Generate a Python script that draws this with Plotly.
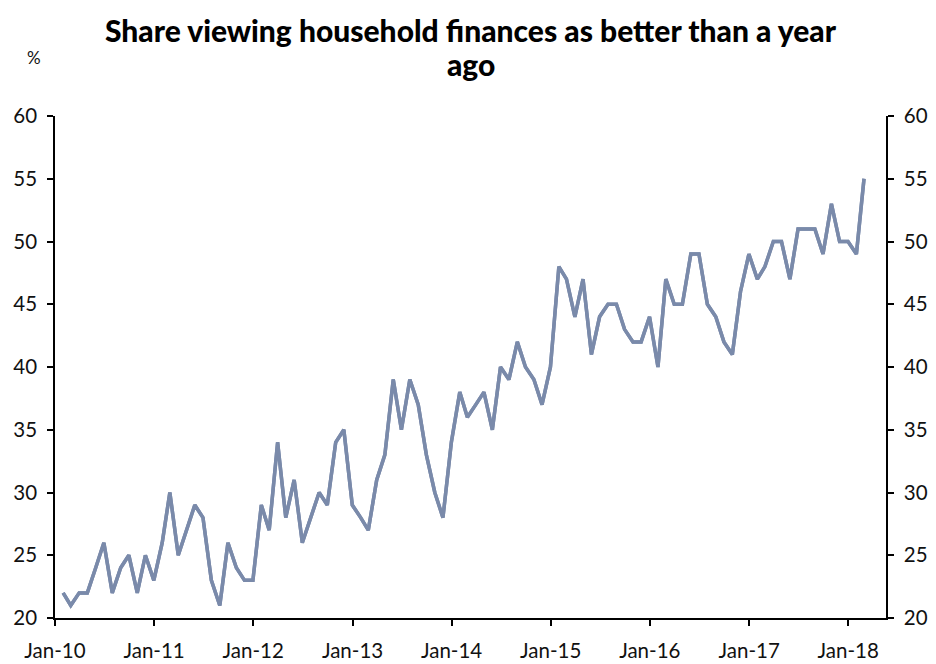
import plotly.graph_objects as go
import pandas as pd

# Monthly survey values, Jan-2010 .. Feb-2018 (%)
values = [22, 21, 22, 22, 24, 26, 22, 24, 25, 22, 25, 23,
          26, 30, 25, 27, 29, 28, 23, 21, 26, 24, 23, 23,
          29, 27, 34, 28, 31, 26, 28, 30, 29, 34, 35, 29,
          28, 27, 31, 33, 39, 35, 39, 37, 33, 30, 28, 34,
          38, 36, 37, 38, 35, 40, 39, 42, 40, 39, 37, 40,
          48, 47, 44, 47, 41, 44, 45, 45, 43, 42, 42, 44,
          40, 47, 45, 45, 49, 49, 45, 44, 42, 41, 46, 49,
          47, 48, 50, 50, 47, 51, 51, 51, 49, 53, 50, 50,
          49, 55]
dates = pd.date_range("2010-01-31", periods=len(values), freq="ME")

tick_dates = pd.date_range("2010-01-01", "2018-01-01", freq="YS")
tick_labels = ["Jan-10", "Jan-11", "Jan-12", "Jan-13", "Jan-14",
               "Jan-15", "Jan-16", "Jan-17", "Jan-18"]
y_ticks = [20, 25, 30, 35, 40, 45, 50, 55, 60]
title_lines = ["Share viewing household finances as better than a year", "ago"]

LINE = "#7a8aaa"
FONT = "Lato"

fig = go.Figure()
fig.add_trace(go.Scatter(x=dates, y=values, mode="lines",
                         line=dict(color=LINE, width=3.5), showlegend=False))
fig.add_trace(go.Scatter(x=dates, y=values, mode="lines", yaxis="y2",
                         line=dict(color=LINE, width=3.5), showlegend=False,
                         hoverinfo="skip"))

axis_common = dict(showgrid=False, zeroline=False, showline=True,
                   linecolor="black", linewidth=1.5, ticks="outside",
                   ticklen=6, tickwidth=1.5, tickcolor="black", automargin=False,
                   tickfont=dict(family=FONT, size=20.5, color="#111"))

# plot area: top 116 px, bottom 618 px -> paper y for pixel row p
def py(p):
    return (618 - p) / 502

annotations = [dict(text="%", xref="paper", yref="paper", x=-0.025, y=py(57),
                    xanchor="center", yanchor="middle", showarrow=False,
                    font=dict(family=FONT, size=17, color="#111"))]
for txt, row in zip(title_lines, [30, 64]):
    annotations.append(dict(text=txt, xref="paper", yref="paper",
                            x=(471 - 55) / 831, y=py(row),
                            xanchor="center", yanchor="middle", showarrow=False,
                            font=dict(family=FONT, size=30, color="black",
                                      weight=900)))

fig.update_layout(
    width=936, height=664,
    margin=dict(l=55, r=50, t=116, b=46),
    paper_bgcolor="white", plot_bgcolor="white",
    xaxis=dict(range=[pd.Timestamp("2010-01-01"), pd.Timestamp("2018-05-20")],
               tickvals=list(tick_dates), ticktext=tick_labels,
               ticklabelstandoff=8, **axis_common),
    yaxis=dict(range=[20, 60], tickvals=y_ticks, ticklabelstandoff=6,
               **axis_common),
    yaxis2=dict(range=[20, 60], tickvals=y_ticks, overlaying="y", side="right",
                ticklabelstandoff=6, **axis_common),
    annotations=annotations,
)

fig.write_html("out.html")
